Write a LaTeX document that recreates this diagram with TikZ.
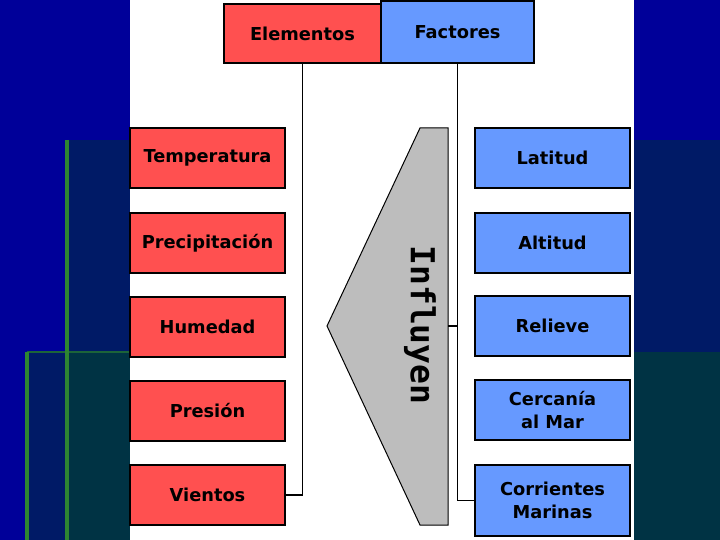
\documentclass[tikz,border=0pt]{standalone}
\usepackage{fontspec}
\setmainfont{DejaVu Sans}
\newfontfamily\influfont{DejaVu Sans Mono}
\definecolor{deepblue}{HTML}{000099}
\definecolor{navyband}{HTML}{001A66}
\definecolor{tealband}{HTML}{003344}
\definecolor{greenrule}{HTML}{2E8532}
\definecolor{coolred}{HTML}{FF5050}
\definecolor{coolblue}{HTML}{6699FF}
\definecolor{arrowgray}{HTML}{BDBDBD}

\begin{document}
\begin{tikzpicture}[x=1pt, y=-1pt,
    box/.style={draw=black, line width=1.8pt, minimum width=155pt, minimum height=60pt, inner sep=0pt, align=center, font=\bfseries\fontsize{17.8}{23}\selectfont},
    elembox/.style={box, fill=coolred},
    factbox/.style={box, fill=coolblue},
    link/.style={draw=black, line width=1.3pt}]
    % background bands
    \useasboundingbox (0,0) rectangle (720,540);
    \fill[deepblue] (0,0) rectangle (720,540);
    \fill[navyband] (67,140) rectangle (130,540);
    \fill[navyband] (27,352) rectangle (67,540);
    \fill[tealband] (67,352) rectangle (130,540);
    \fill[navyband] (634,140) rectangle (720,352);
    \fill[tealband] (634,352) rectangle (720,540);
    \draw[greenrule!60!tealband, line width=1.5pt] (27,352) -- (130,352);
    \draw[greenrule, line width=4pt] (67,140) -- (67,540);
    \draw[greenrule, line width=4pt] (27,352) -- (27,540);
    \fill[white] (130,0) rectangle (634,540);

    % headers
    \node[elembox, minimum width=157pt, minimum height=59pt] (elem) at (302.5,33.5) {Elementos};
    \node[factbox, minimum width=153pt, minimum height=62pt] (fact) at (457.5,32) {Factores};

    % elementos
    \foreach \i/\y/\lbl in {1/158/Temperatura, 2/243/Precipitación, 3/327/Humedad, 4/411/Presión, 5/495/Vientos} {
        \node[elembox] (e\i) at (207.5,\y) {\lbl};
    }
    % factores
    \foreach \i/\y/\lbl in {1/158/Latitud, 2/243/Altitud, 3/326/Relieve, 4/410/{Cercanía\\al Mar}} {
        \node[factbox] (f\i) at (552.5,\y) {\lbl};
    }
    \node[factbox, minimum height=71pt] (f5) at (552.5,500.5) {Corrientes\\Marinas};

    % influyen
    \draw[fill=arrowgray, line width=1pt] (420,128) -- (448,128) -- (448,525) -- (420,525) -- (327,326) -- cycle;
    \coordinate (inflR) at (448,326);
    \node[rotate=-90, font=\influfont\bfseries\fontsize{33}{33}\selectfont] (infl) at (420,325) {Influyen};

    \draw[link] (elem.south) |- (e5.east);
    \draw[link] (fact.south) |- (f5.west);
    \draw[link] (inflR) -- (inflR -| fact.south);
\end{tikzpicture}
\end{document}
